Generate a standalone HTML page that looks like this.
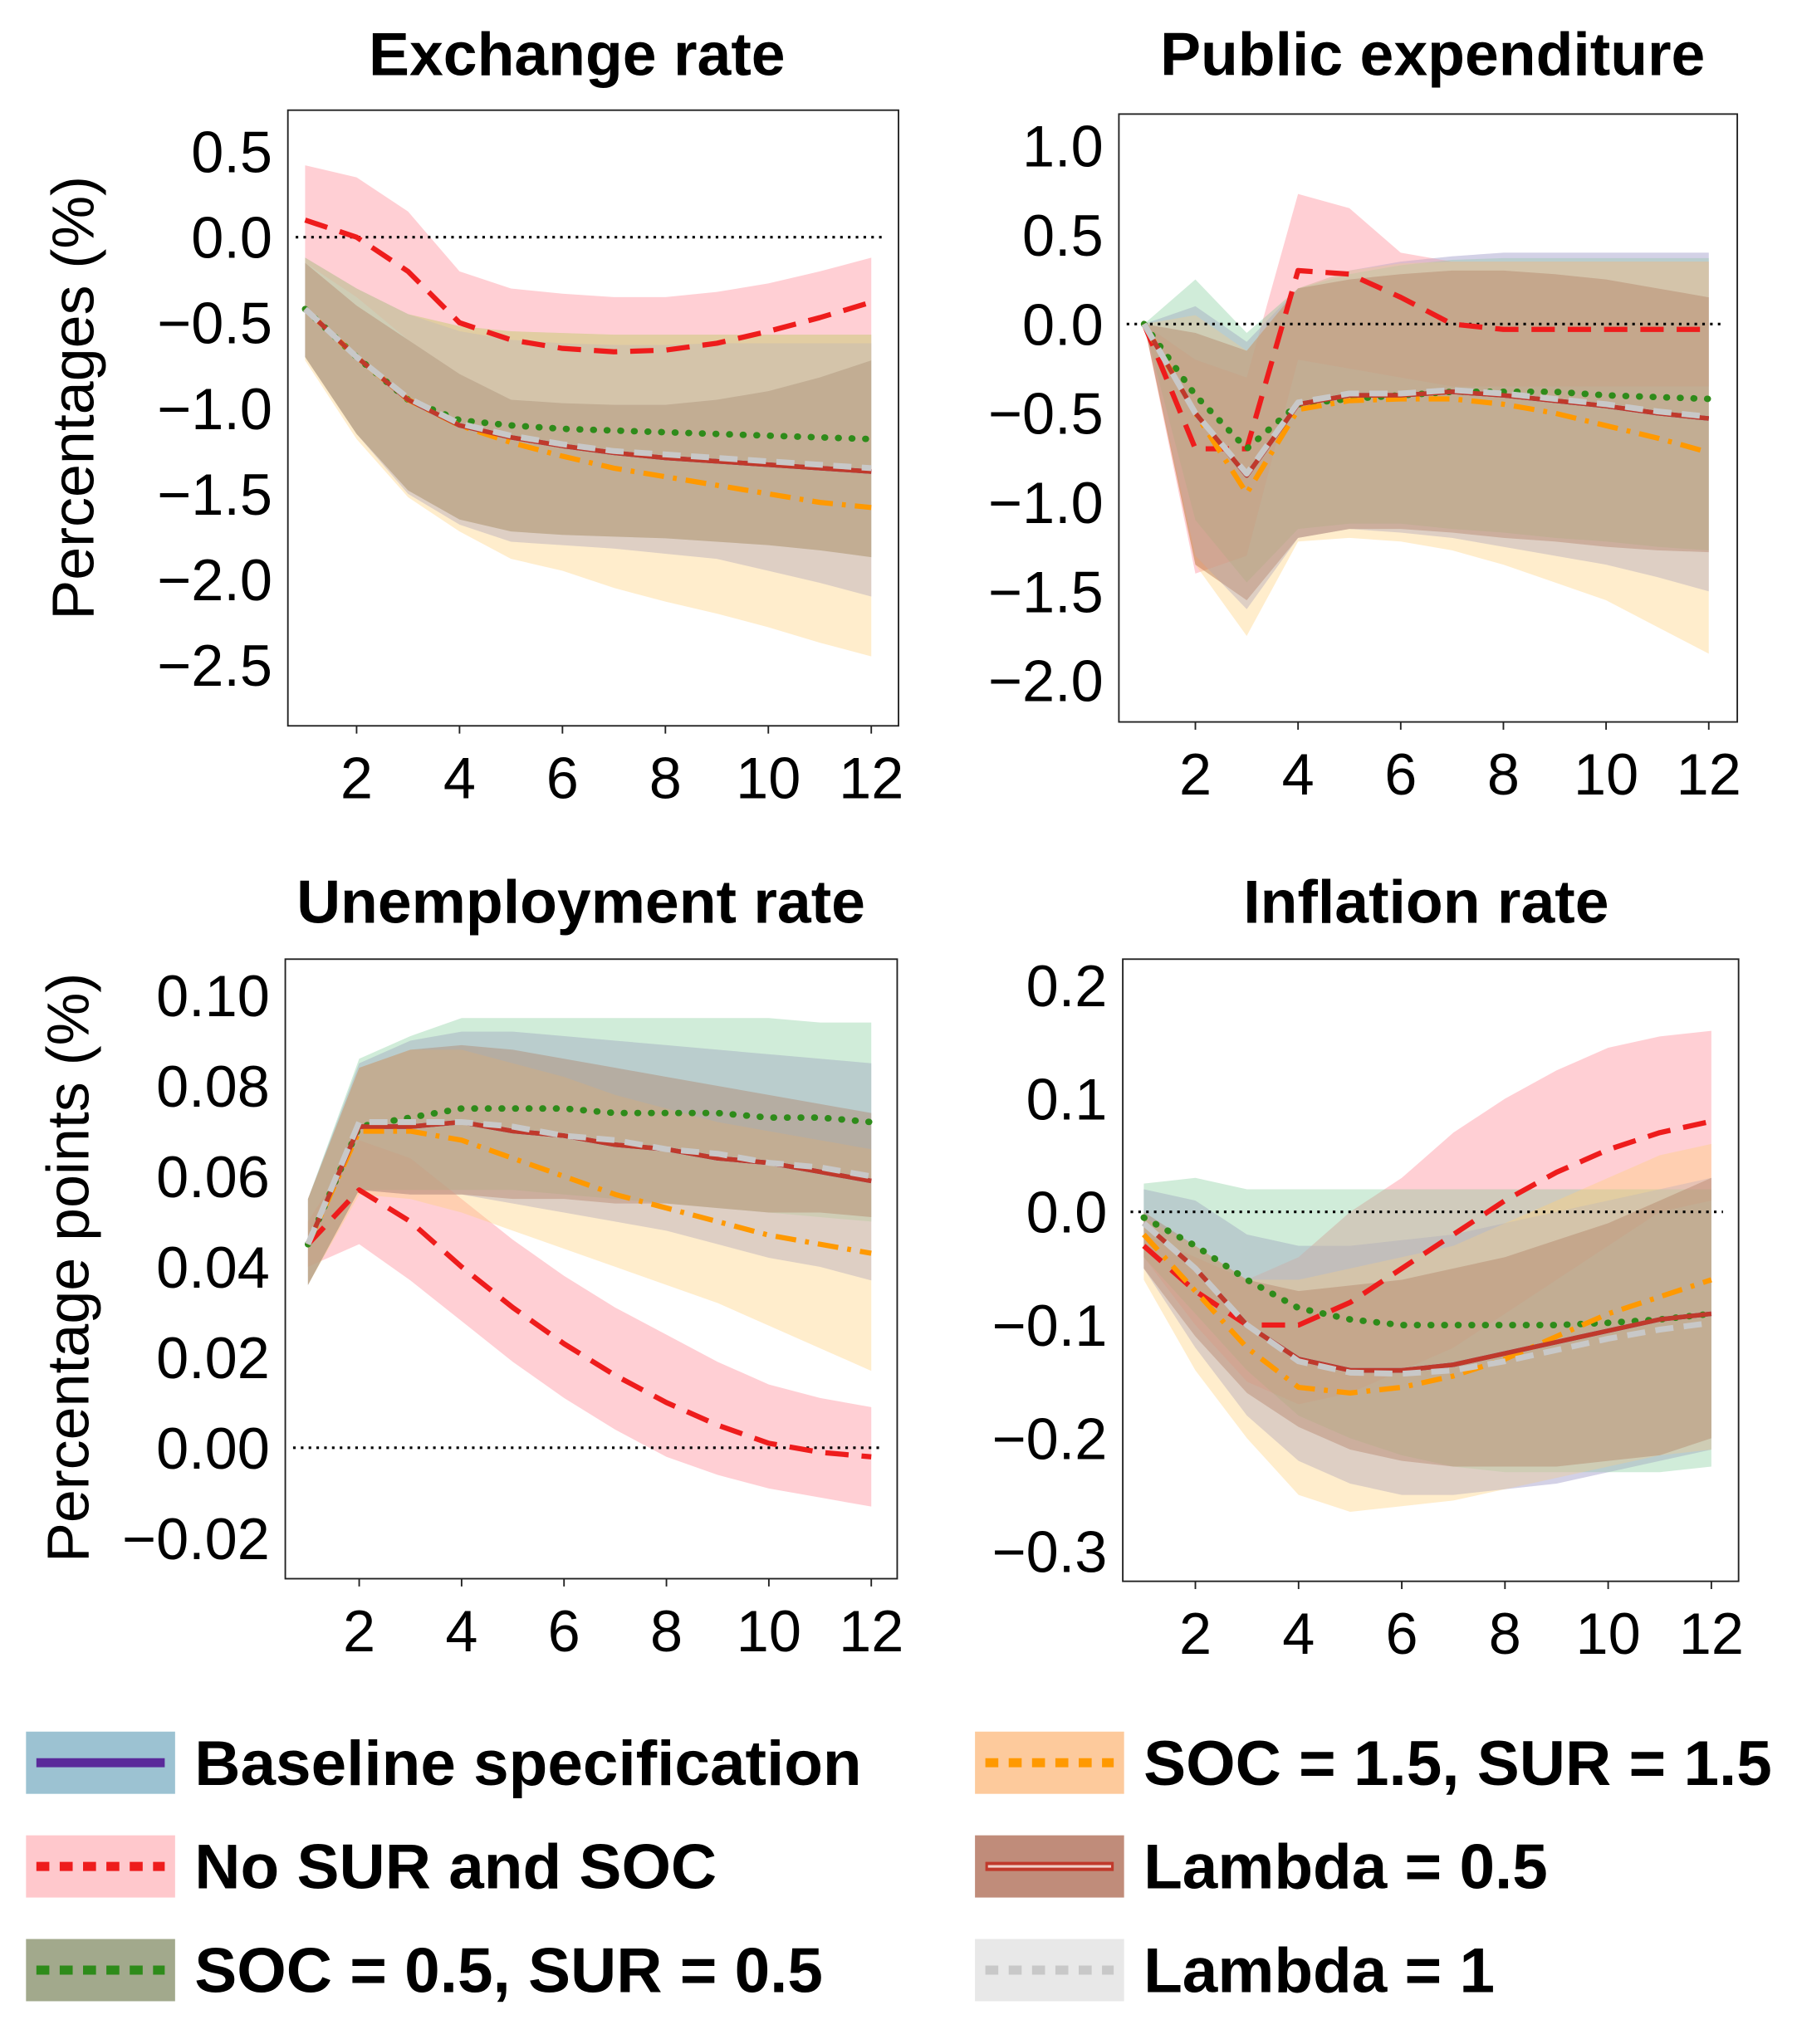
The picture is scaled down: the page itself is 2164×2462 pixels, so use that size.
<!DOCTYPE html>
<html><head><meta charset="utf-8">
<style>
html,body{margin:0;padding:0;background:#fff;}
svg{display:block;font-family:"Liberation Sans","DejaVu Sans",sans-serif;}
</style></head>
<body>
<svg id="fig" width="2164" height="2462" viewBox="0 0 1386 1577" xmlns="http://www.w3.org/2000/svg"></svg>
<script>
// x periods
const periods = [1,2,3,4,5,6,7,8,9,10,11,12];
const xTicks = [2,4,6,8,10,12];
const seriesNames = ["Baseline specification","No SUR and SOC","SOC = 0.5, SUR = 0.5","SOC = 1.5, SUR = 1.5","Lambda = 0.5","Lambda = 1"];

// Exchange rate
const exTicks = [0.5,0.0,-0.5,-1.0,-1.5,-2.0,-2.5];
const exTickLabels = ["0.5","0.0","\u22120.5","\u22121.0","\u22121.5","\u22122.0","\u22122.5"];
const exBaseMean = [-0.42,-0.7,-0.95,-1.1,-1.17,-1.22,-1.26,-1.29,-1.31,-1.33,-1.35,-1.37];
const exBaseUp = [-0.12,-0.3,-0.45,-0.55,-0.6,-0.62,-0.63,-0.63,-0.62,-0.62,-0.62,-0.62];
const exBaseLo = [-0.7,-1.15,-1.5,-1.68,-1.78,-1.8,-1.82,-1.85,-1.88,-1.95,-2.02,-2.1];
const exNoMean = [0.1,0.0,-0.2,-0.5,-0.6,-0.65,-0.67,-0.66,-0.62,-0.55,-0.47,-0.38];
const exNoUp = [0.42,0.35,0.15,-0.2,-0.3,-0.33,-0.35,-0.35,-0.32,-0.27,-0.2,-0.12];
const exNoLo = [-0.15,-0.35,-0.6,-0.8,-0.95,-0.97,-0.98,-0.98,-0.95,-0.9,-0.82,-0.72];
const exS05Mean = [-0.42,-0.7,-0.95,-1.07,-1.1,-1.12,-1.13,-1.14,-1.15,-1.16,-1.17,-1.18];
const exS05Up = [-0.12,-0.3,-0.45,-0.52,-0.55,-0.56,-0.57,-0.57,-0.57,-0.57,-0.57,-0.57];
const exS05Lo = [-0.7,-1.15,-1.48,-1.65,-1.72,-1.74,-1.75,-1.76,-1.78,-1.8,-1.83,-1.87];
const exS15Mean = [-0.42,-0.7,-0.95,-1.1,-1.2,-1.28,-1.35,-1.4,-1.45,-1.5,-1.55,-1.58];
const exS15Up = [-0.12,-0.3,-0.45,-0.52,-0.55,-0.56,-0.57,-0.57,-0.57,-0.57,-0.57,-0.57];
const exS15Lo = [-0.72,-1.18,-1.52,-1.72,-1.88,-1.95,-2.05,-2.13,-2.2,-2.28,-2.37,-2.45];
const exL05Mean = [-0.42,-0.7,-0.95,-1.1,-1.17,-1.22,-1.26,-1.29,-1.31,-1.33,-1.35,-1.37];
const exL05Up = [-0.15,-0.4,-0.6,-0.8,-0.95,-0.97,-0.98,-0.98,-0.95,-0.9,-0.82,-0.72];
const exL05Lo = [-0.7,-1.15,-1.48,-1.65,-1.72,-1.74,-1.75,-1.76,-1.78,-1.8,-1.83,-1.87];
const exL1Mean = [-0.42,-0.7,-0.94,-1.09,-1.16,-1.21,-1.25,-1.27,-1.29,-1.31,-1.33,-1.35];
const exL1Up = [-0.12,-0.3,-0.45,-0.55,-0.6,-0.62,-0.63,-0.63,-0.62,-0.62,-0.62,-0.62];
const exL1Lo = [-0.7,-1.15,-1.5,-1.68,-1.78,-1.8,-1.82,-1.85,-1.88,-1.95,-2.02,-2.1];

// Public expenditure
const peTicks = [1.0,0.5,0.0,-0.5,-1.0,-1.5,-2.0];
const peTickLabels = ["1.0","0.5","0.0","\u22120.5","\u22121.0","\u22121.5","\u22122.0"];
const peBaseMean = [0,-0.5,-0.85,-0.45,-0.4,-0.4,-0.38,-0.4,-0.43,-0.46,-0.5,-0.53];
const peBaseUp = [0,0.1,-0.1,0.2,0.3,0.35,0.38,0.4,0.4,0.4,0.4,0.4];
const peBaseLo = [0,-1.3,-1.6,-1.2,-1.15,-1.17,-1.2,-1.25,-1.3,-1.35,-1.42,-1.5];
const peNoMean = [0,-0.7,-0.7,0.3,0.28,0.15,0,-0.03,-0.03,-0.03,-0.03,-0.03];
const peNoUp = [0,-0.2,-0.3,0.73,0.65,0.4,0.35,0.35,0.35,0.35,0.35,0.35];
const peNoLo = [0,-1.4,-1.3,-0.2,-0.25,-0.3,-0.35,-0.35,-0.35,-0.35,-0.35,-0.35];
const peS05Mean = [0,-0.4,-0.7,-0.45,-0.42,-0.4,-0.38,-0.38,-0.38,-0.4,-0.41,-0.42];
const peS05Up = [0,0.25,-0.05,0.2,0.28,0.33,0.36,0.37,0.37,0.37,0.37,0.37];
const peS05Lo = [0,-1.1,-1.45,-1.15,-1.12,-1.12,-1.15,-1.17,-1.2,-1.22,-1.25,-1.27];
const peS15Mean = [0,-0.5,-0.95,-0.48,-0.43,-0.42,-0.42,-0.45,-0.5,-0.57,-0.64,-0.72];
const peS15Up = [0,0.05,-0.15,0.2,0.3,0.34,0.35,0.35,0.35,0.35,0.35,0.35];
const peS15Lo = [0,-1.35,-1.75,-1.22,-1.2,-1.22,-1.27,-1.35,-1.45,-1.55,-1.7,-1.85];
const peL05Mean = [0,-0.5,-0.85,-0.45,-0.4,-0.4,-0.38,-0.4,-0.43,-0.46,-0.5,-0.53];
const peL05Up = [0,-0.05,-0.15,0.2,0.25,0.28,0.3,0.3,0.28,0.25,0.2,0.15];
const peL05Lo = [0,-1.35,-1.55,-1.2,-1.15,-1.15,-1.17,-1.2,-1.22,-1.25,-1.27,-1.28];
const peL1Mean = [0,-0.5,-0.84,-0.44,-0.39,-0.39,-0.37,-0.39,-0.42,-0.45,-0.49,-0.52];
const peL1Up = [0,0.1,-0.1,0.2,0.3,0.35,0.38,0.4,0.4,0.4,0.4,0.4];
const peL1Lo = [0,-1.3,-1.6,-1.2,-1.15,-1.17,-1.2,-1.25,-1.3,-1.35,-1.42,-1.5];

// Unemployment rate
const unTicks = [0.10,0.08,0.06,0.04,0.02,0.00,-0.02];
const unTickLabels = ["0.10","0.08","0.06","0.04","0.02","0.00","\u22120.02"];
const unBaseMean = [0.045,0.071,0.071,0.072,0.07,0.069,0.067,0.066,0.064,0.063,0.061,0.059];
const unBaseUp = [0.055,0.085,0.09,0.092,0.092,0.091,0.09,0.089,0.088,0.087,0.086,0.085];
const unBaseLo = [0.036,0.057,0.056,0.056,0.054,0.052,0.05,0.048,0.045,0.042,0.04,0.037];
const unNoMean = [0.045,0.057,0.05,0.04,0.031,0.023,0.016,0.01,0.005,0.001,-0.001,-0.002];
const unNoUp = [0.05,0.068,0.064,0.055,0.046,0.038,0.031,0.025,0.019,0.014,0.011,0.009];
const unNoLo = [0.04,0.045,0.037,0.028,0.019,0.011,0.004,-0.002,-0.006,-0.009,-0.011,-0.013];
const unS05Mean = [0.045,0.071,0.073,0.075,0.075,0.075,0.074,0.074,0.074,0.073,0.073,0.072];
const unS05Up = [0.055,0.086,0.091,0.095,0.095,0.095,0.095,0.095,0.095,0.095,0.094,0.094];
const unS05Lo = [0.036,0.057,0.057,0.057,0.057,0.056,0.055,0.054,0.053,0.052,0.051,0.05];
const unS15Mean = [0.045,0.07,0.07,0.068,0.064,0.06,0.056,0.053,0.05,0.047,0.045,0.043];
const unS15Up = [0.055,0.084,0.088,0.088,0.085,0.082,0.078,0.075,0.072,0.07,0.068,0.066];
const unS15Lo = [0.036,0.056,0.055,0.052,0.048,0.044,0.04,0.036,0.032,0.027,0.022,0.017];
const unL05Mean = [0.045,0.071,0.071,0.072,0.07,0.069,0.067,0.066,0.064,0.063,0.061,0.059];
const unL05Up = [0.055,0.084,0.088,0.089,0.088,0.086,0.084,0.082,0.08,0.078,0.076,0.074];
const unL05Lo = [0.036,0.057,0.056,0.056,0.055,0.055,0.054,0.054,0.053,0.052,0.052,0.051];
const unL1Mean = [0.045,0.072,0.072,0.072,0.071,0.069,0.068,0.066,0.065,0.063,0.062,0.06];
const unL1Up = [0.055,0.085,0.09,0.092,0.092,0.091,0.09,0.089,0.088,0.087,0.086,0.085];
const unL1Lo = [0.036,0.057,0.056,0.056,0.054,0.052,0.05,0.048,0.045,0.042,0.04,0.037];

// Inflation rate
const inTicks = [0.2,0.1,0.0,-0.1,-0.2,-0.3];
const inTickLabels = ["0.2","0.1","0.0","\u22120.1","\u22120.2","\u22120.3"];
const inBaseMean = [-0.01,-0.05,-0.1,-0.13,-0.14,-0.14,-0.135,-0.125,-0.115,-0.105,-0.095,-0.09];
const inBaseUp = [0.02,0.01,-0.02,-0.03,-0.03,-0.025,-0.02,-0.01,0,0.01,0.02,0.03];
const inBaseLo = [-0.05,-0.12,-0.18,-0.22,-0.24,-0.25,-0.25,-0.245,-0.24,-0.23,-0.22,-0.21];
const inNoMean = [-0.03,-0.07,-0.1,-0.1,-0.08,-0.05,-0.02,0.01,0.035,0.055,0.07,0.08];
const inNoUp = [-0.02,-0.04,-0.06,-0.04,0,0.03,0.07,0.1,0.125,0.145,0.155,0.16];
const inNoLo = [-0.04,-0.1,-0.15,-0.17,-0.16,-0.14,-0.12,-0.09,-0.06,-0.03,0,0.01];
const inS05Mean = [-0.005,-0.03,-0.06,-0.085,-0.095,-0.1,-0.1,-0.1,-0.1,-0.098,-0.095,-0.09];
const inS05Up = [0.025,0.03,0.02,0.02,0.02,0.02,0.02,0.02,0.02,0.02,0.02,0.02];
const inS05Lo = [-0.04,-0.09,-0.14,-0.18,-0.2,-0.215,-0.225,-0.23,-0.23,-0.23,-0.23,-0.225];
const inS15Mean = [-0.02,-0.07,-0.12,-0.155,-0.16,-0.155,-0.145,-0.13,-0.11,-0.09,-0.075,-0.06];
const inS15Up = [-0.005,-0.03,-0.06,-0.06,-0.05,-0.04,-0.03,-0.01,0.01,0.03,0.05,0.06];
const inS15Lo = [-0.06,-0.14,-0.2,-0.25,-0.265,-0.26,-0.255,-0.245,-0.235,-0.225,-0.215,-0.21];
const inL05Mean = [-0.01,-0.05,-0.1,-0.13,-0.14,-0.14,-0.135,-0.125,-0.115,-0.105,-0.095,-0.09];
const inL05Up = [0.0,-0.03,-0.06,-0.07,-0.065,-0.06,-0.05,-0.04,-0.025,-0.01,0.01,0.03];
const inL05Lo = [-0.05,-0.11,-0.16,-0.19,-0.21,-0.22,-0.225,-0.225,-0.225,-0.22,-0.215,-0.2];
const inL1Mean = [-0.01,-0.05,-0.1,-0.132,-0.142,-0.143,-0.14,-0.132,-0.122,-0.112,-0.104,-0.098];
const inL1Up = [0.02,0.01,-0.02,-0.03,-0.03,-0.025,-0.02,-0.01,0,0.01,0.02,0.03];
const inL1Lo = [-0.05,-0.12,-0.18,-0.22,-0.24,-0.25,-0.25,-0.245,-0.24,-0.23,-0.22,-0.21];

const NS = "http://www.w3.org/2000/svg";
const svg = document.getElementById("fig");
function mk(tag, attrs, parent){
  const e = document.createElementNS(NS, tag);
  for (const k in attrs) e.setAttribute(k, attrs[k]);
  (parent||svg).appendChild(e);
  return e;
}
const styles = [
  {band:"#7a72d0", bo:0.30, stroke:"#5a2a9a", w:3.5, dash:"", cap:"butt"},
  {band:"#ff8c98", bo:0.42, stroke:"#ee1c1c", w:4, dash:"18,10", cap:"butt"},
  {band:"#6cc48a", bo:0.32, stroke:"#2e8b1a", w:5, dash:"0.5,10", cap:"round"},
  {band:"#ffcf7a", bo:0.38, stroke:"#ff9900", w:4, dash:"16,7,3,7", cap:"butt"},
  {band:"#a0522d", bo:0.36, stroke:"#c0392b", w:3.5, dash:"", cap:"butt"},
  {band:"#c8c8c8", bo:0.28, stroke:"#c8c8c8", w:4.5, dash:"14,8", cap:"butt"}
];
const panels = [
  {title:"Exchange rate", tx:445, ty:58, box:[222,85,693,560], x2:275, x12:672, yv0:0, yp0:183, yv1:-2.5, yp1:513,
   ticks:exTicks, labels:exTickLabels,
   data:[[exBaseMean,exBaseUp,exBaseLo],[exNoMean,exNoUp,exNoLo],[exS05Mean,exS05Up,exS05Lo],[exS15Mean,exS15Up,exS15Lo],[exL05Mean,exL05Up,exL05Lo],[exL1Mean,exL1Up,exL1Lo]]},
  {title:"Public expenditure", tx:1105, ty:58, box:[863,88,1340,557], x2:922, x12:1318, yv0:0, yp0:250, yv1:-2, yp1:525,
   ticks:peTicks, labels:peTickLabels,
   data:[[peBaseMean,peBaseUp,peBaseLo],[peNoMean,peNoUp,peNoLo],[peS05Mean,peS05Up,peS05Lo],[peS15Mean,peS15Up,peS15Lo],[peL05Mean,peL05Up,peL05Lo],[peL1Mean,peL1Up,peL1Lo]]},
  {title:"Unemployment rate", tx:448, ty:712, box:[220,740,692,1218], x2:277, x12:672, yv0:0, yp0:1117, yv1:0.1, yp1:768,
   ticks:unTicks, labels:unTickLabels,
   data:[[unBaseMean,unBaseUp,unBaseLo],[unNoMean,unNoUp,unNoLo],[unS05Mean,unS05Up,unS05Lo],[unS15Mean,unS15Up,unS15Lo],[unL05Mean,unL05Up,unL05Lo],[unL1Mean,unL1Up,unL1Lo]]},
  {title:"Inflation rate", tx:1100, ty:712, box:[866,740,1341,1220], x2:922, x12:1320, yv0:0, yp0:935, yv1:-0.3, yp1:1197,
   ticks:inTicks, labels:inTickLabels,
   data:[[inBaseMean,inBaseUp,inBaseLo],[inNoMean,inNoUp,inNoLo],[inS05Mean,inS05Up,inS05Lo],[inS15Mean,inS15Up,inS15Lo],[inL05Mean,inL05Up,inL05Lo],[inL1Mean,inL1Up,inL1Lo]]}
];
const keyNames = ["baseline","no-sur-soc","soc-0-5","soc-1-5","lambda-0-5","lambda-1"];
panels.forEach((p, pi) => {
  const g = mk("g", {});
  const pname = p.title.toLowerCase().replace(/ /g,"-");
  
  
  const xs = v => p.x2 + (v-2)*(p.x12-p.x2)/10;
  const ys = v => p.yp0 + (v-p.yv0)*(p.yp1-p.yp0)/(p.yv1-p.yv0);
  const t = mk("text", {x:p.tx, y:p.ty, "text-anchor":"middle", "font-size":47, "font-weight":"bold"}, g);
  t.textContent = p.title;
  
  
  const [x0,y0,x1,y1] = p.box;
  p.data.forEach((d, si) => {
    const s = styles[si];
    let pts = periods.map((x,i)=>xs(x)+","+ys(d[1][i]));
    pts = pts.concat(periods.slice().reverse().map((x,j)=>{const i=periods.length-1-j; return xs(x)+","+ys(d[2][i]);}));
    const b = mk("polygon", {points:pts.join(" "), fill:s.band, "fill-opacity":s.bo, stroke:"none"}, g);
    
    
  });
  const z = mk("line", {x1:x0+6, x2:x1-12, y1:ys(0), y2:ys(0), stroke:"#000", "stroke-width":2, "stroke-dasharray":"2,4"}, g);
  
  
  p.data.forEach((d, si) => {
    const s = styles[si];
    const pts = periods.map((x,i)=>xs(x)+","+ys(d[0][i])).join(" ");
    const l = mk("polyline", {points:pts, fill:"none", stroke:s.stroke, "stroke-width":s.w, "stroke-dasharray":s.dash, "stroke-linecap":s.cap, "stroke-linejoin":"round"}, g);
    
    
  });
  const r = mk("rect", {x:x0, y:y0, width:x1-x0, height:y1-y0, fill:"none", stroke:"#222", "stroke-width":1.2}, g);
  
  
  xTicks.forEach(v => {
    const tk = mk("line", {x1:xs(v), x2:xs(v), y1:y1, y2:y1+6, stroke:"#222", "stroke-width":1.2}, g);
    
    
    const tl = mk("text", {x:xs(v), y:y1+56, "text-anchor":"middle", "font-size":45}, g);
    tl.textContent = String(v);
    
    
  });
  p.ticks.forEach((v, i) => {
    const tl = mk("text", {x:x0-12, y:ys(v)+16, "text-anchor":"end", "font-size":45}, g);
    tl.textContent = p.labels[i];
    
    
  });
});
const ya = mk("text", {x:0, y:0, transform:"translate(72,307) rotate(-90)", "text-anchor":"middle", "font-size":46});
ya.textContent = "Percentages (%)";


const yb = mk("text", {x:0, y:0, transform:"translate(68,978) rotate(-90)", "text-anchor":"middle", "font-size":46});
yb.textContent = "Percentage points  (%)";
yb.setAttribute('xml:space', 'preserve');


const legPatch = ["#9cc2d2","#ffc8cc","#a2a98c","#fdca9c","#c08c7a","#e8e8e8"];
const legPos = [[20,1360],[20,1440],[20,1520],[752,1360],[752,1440],[752,1520]];
seriesNames.forEach((n, i) => {
  const [lx, ly] = legPos[i];
  const g = mk("g", {});
  
  
  mk("rect", {x:lx, y:ly-24, width:115, height:48, fill:legPatch[i]}, g);
  const s = styles[i];
  mk("line", {x1:lx+8, x2:lx+107, y1:ly, y2:ly, stroke:s.stroke, "stroke-width":7,
    "stroke-dasharray": (i===0||i===4) ? "" : "10,8", "stroke-linecap":"butt"}, g);
  if (i===4) mk("line", {x1:lx+10, x2:lx+105, y1:ly, y2:ly, stroke:"#f0d0c8", "stroke-width":2}, g);
  const t = mk("text", {x:lx+130, y:ly+17, "font-size":49, "font-weight":"bold"}, g);
  t.textContent = n;
});
</script>
</body></html>
